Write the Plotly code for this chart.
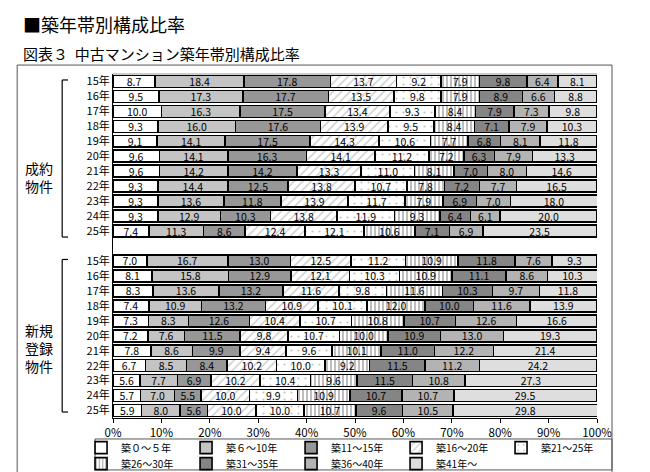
import plotly.graph_objects as go

# 築年帯（凡例）
bands = ["築０～５年", "築６～10年", "築11～15年", "築16～20年", "築21～25年",
         "築26～30年", "築31～35年", "築36～40年", "築41年～"]
years = ["15年", "16年", "17年", "18年", "19年", "20年", "21年", "22年", "23年", "24年", "25年"]

# 成約物件（年ごと、築年帯順）
seiyaku = [
    [8.7, 18.4, 17.8, 13.7, 9.2, 7.9, 9.8, 6.4, 8.1],
    [9.5, 17.3, 17.7, 13.5, 9.8, 7.9, 8.9, 6.6, 8.8],
    [10.0, 16.3, 17.5, 13.4, 9.3, 8.4, 7.9, 7.3, 9.8],
    [9.3, 16.0, 17.6, 13.9, 9.5, 8.4, 7.1, 7.9, 10.3],
    [9.1, 14.1, 17.5, 14.3, 10.6, 7.7, 6.8, 8.1, 11.8],
    [9.6, 14.1, 16.3, 14.1, 11.2, 7.2, 6.3, 7.9, 13.3],
    [9.6, 14.2, 14.2, 13.3, 11.0, 8.1, 7.0, 8.0, 14.6],
    [9.3, 14.4, 12.5, 13.8, 10.7, 7.8, 7.2, 7.7, 16.5],
    [9.3, 13.6, 11.8, 13.9, 11.7, 7.9, 6.9, 7.0, 18.0],
    [9.3, 12.9, 10.3, 13.8, 11.9, 9.3, 6.4, 6.1, 20.0],
    [7.4, 11.3, 8.6, 12.4, 12.1, 10.6, 7.1, 6.9, 23.5],
]
# 新規登録物件
shinki = [
    [7.0, 16.7, 13.0, 12.5, 11.2, 10.9, 11.8, 7.6, 9.3],
    [8.1, 15.8, 12.9, 12.1, 10.3, 10.9, 11.1, 8.6, 10.3],
    [8.3, 13.6, 13.2, 11.6, 9.8, 11.6, 10.3, 9.7, 11.8],
    [7.4, 10.9, 13.2, 10.9, 10.1, 12.0, 10.0, 11.6, 13.9],
    [7.3, 8.3, 12.6, 10.4, 10.7, 10.8, 10.7, 12.6, 16.6],
    [7.2, 7.6, 11.5, 9.8, 10.7, 10.0, 10.9, 13.0, 19.3],
    [7.8, 8.6, 9.9, 9.4, 9.6, 10.1, 11.0, 12.2, 21.4],
    [6.7, 8.5, 8.4, 10.2, 10.0, 9.2, 11.5, 11.2, 24.2],
    [5.6, 7.7, 6.9, 10.2, 10.4, 9.6, 11.5, 10.8, 27.3],
    [5.7, 7.0, 5.5, 10.0, 9.9, 10.9, 10.7, 10.7, 29.5],
    [5.9, 8.0, 5.6, 10.0, 10.0, 10.7, 9.6, 10.5, 29.8],
]

FONT = "Noto Sans CJK JP"

# 行の位置（成約 0-10, 空行, 新規 12-22）
rows = list(range(len(years))) + [len(years) + 1 + i for i in range(len(years))]
all_rows = seiyaku + shinki

styles = [
    dict(color="white"),
    dict(color="#c4c4c4"),
    dict(color="#979797"),
    dict(color="white", pattern=dict(shape="/", fgcolor="#9a9a9a", bgcolor="white", size=6, solidity=0.25)),
    dict(color="white", pattern=dict(shape=".", fgcolor="#8a8a8a", bgcolor="white", size=7, solidity=0.08)),
    dict(color="white", pattern=dict(shape="|", fgcolor="#222222", bgcolor="white", size=4, solidity=0.3)),
    dict(color="#858585"),
    dict(color="#b3b3b3"),
    dict(color="#dedede"),
]

fig = go.Figure()
for k, name in enumerate(bands):
    vals = [r[k] for r in all_rows]
    fig.add_trace(go.Bar(
        name=name, orientation="h", y=rows, x=vals,
        text=["%.1f" % v for v in vals],
        textposition="inside", insidetextanchor="middle", textangle=0,
        textfont=dict(family=FONT, size=10.5, color="black"),
        marker=dict(line=dict(color="black", width=1.6), **styles[k]),
        legend="legend" if k < 5 else "legend2",
        hoverinfo="skip",
    ))

shapes = [
    # 外枠
    dict(type="rect", xref="paper", yref="paper", x0=-0.198, x1=1.031, y0=-0.2, y1=1.026,
         line=dict(color="#555555", width=1)),
    # 上の灰色線
    dict(type="line", xref="paper", yref="paper", x0=0, x1=1, y0=1, y1=1,
         line=dict(color="#999999", width=1)),
    # 凡例の枠
    dict(type="rect", xref="paper", yref="paper", x0=-0.037, x1=1.031, y0=-0.151, y1=-0.061,
         line=dict(color="#555555", width=1), fillcolor="rgba(0,0,0,0)"),
]
# 括弧
for top, bot in [(-0.1, 10.4), (11.9, 22.1)]:
    for seg in [(-0.105, top, -0.105, bot), (-0.105, top, -0.093, top), (-0.105, bot, -0.093, bot)]:
        shapes.append(dict(type="line", xref="paper", yref="y", x0=seg[0], y0=seg[1], x1=seg[2], y1=seg[3],
                           line=dict(color="black", width=1.2)))

annotations = [
    dict(text="■築年帯別構成比率", xref="paper", yref="paper", x=-0.19, y=1.19,
         xanchor="left", yanchor="top", showarrow=False, font=dict(family=FONT, size=18, color="black")),
    dict(text="図表３  中古マンション築年帯別構成比率", xref="paper", yref="paper", x=-0.19, y=1.06,
         xanchor="left", yanchor="middle", showarrow=False, font=dict(family=FONT, size=15, color="black")),
    dict(text="成約<br>物件", xref="paper", yref="y", x=-0.152, y=6.4, xanchor="center", yanchor="middle",
         showarrow=False, align="center", font=dict(family=FONT, size=14, color="black")),
    dict(text="新規<br>登録<br>物件", xref="paper", yref="y", x=-0.152, y=17.8, xanchor="center", yanchor="middle",
         showarrow=False, align="center", font=dict(family=FONT, size=14, color="black")),
]

leg = dict(orientation="h", xanchor="left", yanchor="top", traceorder="normal",
           borderwidth=0, bgcolor="rgba(0,0,0,0)",
           entrywidth=60, entrywidthmode="pixels", itemwidth=30,
           font=dict(family=FONT, size=10))

# ページ本体の余白(8px)の分だけ小さくする
fig.update_layout(
    width=642, height=464,
    margin=dict(l=105, r=53, t=66, b=54, autoexpand=False),
    barmode="stack", bargap=0.2,
    plot_bgcolor="white", paper_bgcolor="white",
    font=dict(family=FONT, size=11, color="black"),
    showlegend=True,
    legend=dict(leg, x=-0.066, y=-0.044),
    legend2=dict(leg, x=-0.066, y=-0.0905),
    uniformtext=dict(minsize=10.5, mode="show"),
    shapes=shapes, annotations=annotations,
)
fig.update_xaxes(range=[0, 100], tickvals=list(range(0, 101, 10)),
                 ticktext=["%d%%" % v for v in range(0, 101, 10)],
                 showgrid=False, zeroline=False, showline=True, linecolor="black",
                 ticks="outside", ticklen=4, tickcolor="black", tickfont=dict(size=11.5))
fig.update_yaxes(range=[22.5, -0.5], tickvals=rows, ticktext=years + years,
                 showgrid=False, zeroline=False, showline=True, linecolor="black",
                 ticks="", tickfont=dict(size=11))

fig.write_html("out.html")
